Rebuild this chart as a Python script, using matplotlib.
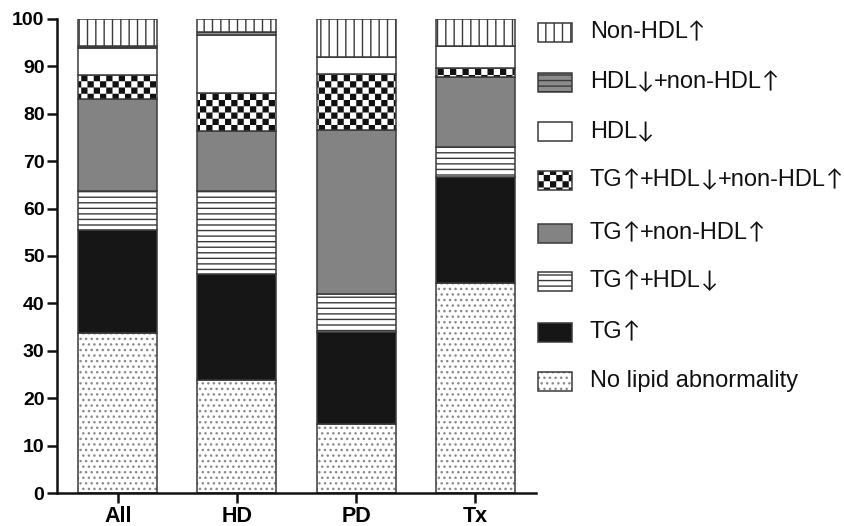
import re
import warnings
import numpy as np
import matplotlib
matplotlib.use('Agg')
import matplotlib.pyplot as plt
import matplotlib.hatch as mhatch
from matplotlib.path import Path
from matplotlib.patches import Rectangle
from matplotlib.offsetbox import DrawingArea, TextArea, HPacker, AnchoredOffsetbox

warnings.filterwarnings('ignore')

# ---------------- data ----------------
groups = ['All', 'HD', 'PD', 'Tx']
categories = ['No lipid abnormality', 'TG↑', 'TG↑+HDL↓', 'TG↑+non-HDL↑',
              'TG↑+HDL↓+non-HDL↑', 'HDL↓', 'HDL↓+non-HDL↑', 'Non-HDL↑']
no_lipid = [33.8, 23.8, 14.6, 44.2]
tg = [21.7, 22.5, 19.4, 22.5]
tg_hdl = [8.3, 17.5, 8.0, 6.4]
tg_nonhdl = [19.3, 12.6, 34.6, 14.7]
tg_hdl_nonhdl = [5.0, 7.9, 11.9, 1.8]
hdl = [5.7, 12.3, 3.5, 4.6]
hdl_nonhdl = [0.4, 0.7, 0.0, 0.0]
nonhdl = [5.8, 2.7, 8.0, 5.8]
yticks = list(range(0, 101, 10))

series = [no_lipid, tg, tg_hdl, tg_nonhdl, tg_hdl_nonhdl, hdl, hdl_nonhdl, nonhdl]


# ------------- checkerboard hatch -------------
class CheckerHatch(mhatch.HatchPatternBase):
    def __init__(self, hatch, density):
        self.n = 16 if '#' in hatch else 0
        self.num_vertices = (self.n * self.n // 2) * 5

    def set_vertices_and_codes(self, vertices, codes):
        n = self.n
        s = 1.0 / n
        ins = 0.11 * s
        sq = np.array([[ins, ins], [s - ins, ins], [s - ins, s - ins],
                       [ins, s - ins], [ins, ins]])
        cds = [Path.MOVETO, Path.LINETO, Path.LINETO, Path.LINETO, Path.CLOSEPOLY]
        k = 0
        for i in range(n):
            for j in range(n):
                if (i + j) % 2 == 0:
                    vertices[k:k + 5] = sq + [i * s, j * s]
                    codes[k:k + 5] = cds
                    k += 5


mhatch._hatch_types.append(CheckerHatch)

plt.rcParams['font.family'] = ['Liberation Sans', 'DejaVu Sans']
plt.rcParams['hatch.linewidth'] = 1.0

styles = [
    dict(face='white', hcol='#8a8a8a', hatch='...'),      # no lipid
    dict(face='#161616', hcol='#161616', hatch=None),     # TG
    dict(face='white', hcol='#3a3a3a', hatch='---'),      # TG+HDL
    dict(face='#838383', hcol='#838383', hatch=None),     # TG+nonHDL
    dict(face='white', hcol='#111111', hatch='#'),        # checker
    dict(face='white', hcol='white', hatch=None),         # HDL
    dict(face='#8c8c8c', hcol='#3a3a3a', hatch='---'),    # HDL+nonHDL
    dict(face='white', hcol='#3a3a3a', hatch='||'),       # nonHDL
]
edge_col = '#3a3a3a'

fig = plt.figure(figsize=(8.45, 5.26), dpi=100)
ax = fig.add_axes([57 / 845, 1 - 493 / 526, (536 - 57) / 845, (493 - 19) / 526])

x = np.arange(len(groups))
width = 0.664
bottom = np.zeros(len(groups))
for vals, st in zip(series, styles):
    vals = np.array(vals, dtype=float)
    ax.bar(x, vals, width, bottom=bottom, color=st['face'], edgecolor=st['hcol'],
           linewidth=0, hatch=st['hatch'])
    ax.bar(x, vals, width, bottom=bottom, fill=False, edgecolor=edge_col, linewidth=1.1)
    bottom += vals

ax.set_xlim(-0.51, 3.51)
ax.set_ylim(0, 100)
ax.set_yticks(yticks)
ax.set_xticks(x)
ax.set_xticklabels(groups, fontsize=15.5, fontweight='bold')
ax.set_yticklabels([str(t) for t in yticks], fontsize=14, fontweight='bold')
for sp in ['top', 'right']:
    ax.spines[sp].set_visible(False)
for sp in ['left', 'bottom']:
    ax.spines[sp].set_linewidth(1.8)
    ax.spines[sp].set_color('#111111')
ax.tick_params(axis='both', length=7, width=1.8, color='#111111', pad=2)
ax.spines['bottom'].set_zorder(5)

# ------------- legend (custom, so arrows use a thin arrow glyph) -------------
row_centers_px = [32, 82, 132, 180, 233, 281, 332, 381]  # top-to-bottom
box_w, box_h = 34 * 0.72, 19 * 0.72  # points
leg_fs = 17.0
arrow_fs = 16.5


def label_box(label):
    kids = []
    for p in re.split('([↑↓])', label):
        if not p:
            continue
        if p in '↑↓':
            tp = dict(fontsize=arrow_fs, family=['Lato', 'DejaVu Sans'], color='#111111')
        else:
            tp = dict(fontsize=leg_fs, family=['Liberation Sans', 'DejaVu Sans'], color='#111111')
        kids.append(TextArea(p, textprops=tp))
    return HPacker(children=kids, pad=0, sep=0, align='baseline')


for yc, lab, st in zip(row_centers_px, categories[::-1], styles[::-1]):
    da = DrawingArea(box_w, box_h, 0, 0)
    da.add_artist(Rectangle((0, 0), box_w, box_h, facecolor=st['face'],
                            edgecolor=st['hcol'], linewidth=0, hatch=st['hatch']))
    da.add_artist(Rectangle((0, 0), box_w, box_h, fill=False,
                            edgecolor=edge_col, linewidth=1.1))
    row = HPacker(children=[da, label_box(lab)], pad=0, sep=18 * 0.72, align='center')
    ab = AnchoredOffsetbox(loc='center left', child=row, pad=0, borderpad=0,
                           frameon=False, bbox_to_anchor=(538 / 845, 1 - yc / 526),
                           bbox_transform=fig.transFigure)
    fig.add_artist(ab)

fig.savefig('out.png', dpi=100)
